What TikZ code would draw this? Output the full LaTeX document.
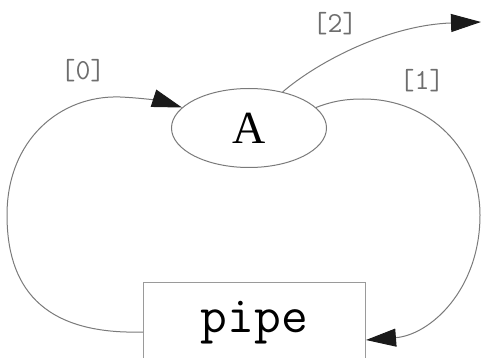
\documentclass[tikz,border=0pt]{standalone}
\usepackage{fontspec}
\setmainfont{Liberation Serif}
\usetikzlibrary{arrows.meta,shapes.geometric,calc}
\definecolor{edgegray}{HTML}{7A7A7A}
\definecolor{boxgray}{HTML}{9A9A9A}
\definecolor{labelgray}{HTML}{6E6E6E}
\definecolor{arrowdark}{HTML}{1A1A1A}
\tikzset{
  edge/.style={draw=edgegray, line width=1pt, -{Triangle[length=30pt,width=18pt,color=arrowdark]}},
  elabel/.style={font=\ttfamily\fontsize{29}{31}\selectfont, text=labelgray, inner sep=0pt},
}
\begin{document}
\begin{tikzpicture}[x=1pt,y=-1pt]
\useasboundingbox (0,0) rectangle (482,358);
\clip (0,0) rectangle (482,358);
\node[ellipse, draw=edgegray, line width=1pt, minimum width=155pt, minimum height=79pt, inner sep=0pt,
      font=\fontsize{46}{50}\selectfont] (A) at (249,128) {A};
\node[rectangle, draw=boxgray, line width=1pt, minimum width=222pt, minimum height=80pt, inner sep=0pt,
      anchor=north west, font=\ttfamily\fontsize{52}{56}\selectfont] (pipe) at (143,282) {pipe};
\coordinate (pL) at ($(pipe.north west)+(0,50)$);
\coordinate (pR) at ($(pipe.north east)+(0,58)$);
\coordinate (out) at (481,22);
% [0]
\draw[edge] (pL) .. controls (40,335) and (7,285) .. (7,215)
  .. controls (7,140) and (60,95) .. (120,97)
  .. controls (145,98) and (165,102) .. (A.163);
% [1]
\draw[edge] (A.17) .. controls (335,100) and (350,99) .. (363,99)
  .. controls (430,99) and (480,150) .. (480,215)
  .. controls (480,290) and (430,335) .. (pR);
% [2]
\draw[edge] (A.47) .. controls (320,60) and (390,25) .. (out);
\node[elabel] (l0) at (83,71) {[0]};
\node[elabel] (l1) at (422,81) {[1]};
\node[elabel] (l2) at (335,24) {[2]};
\end{tikzpicture}
\end{document}
